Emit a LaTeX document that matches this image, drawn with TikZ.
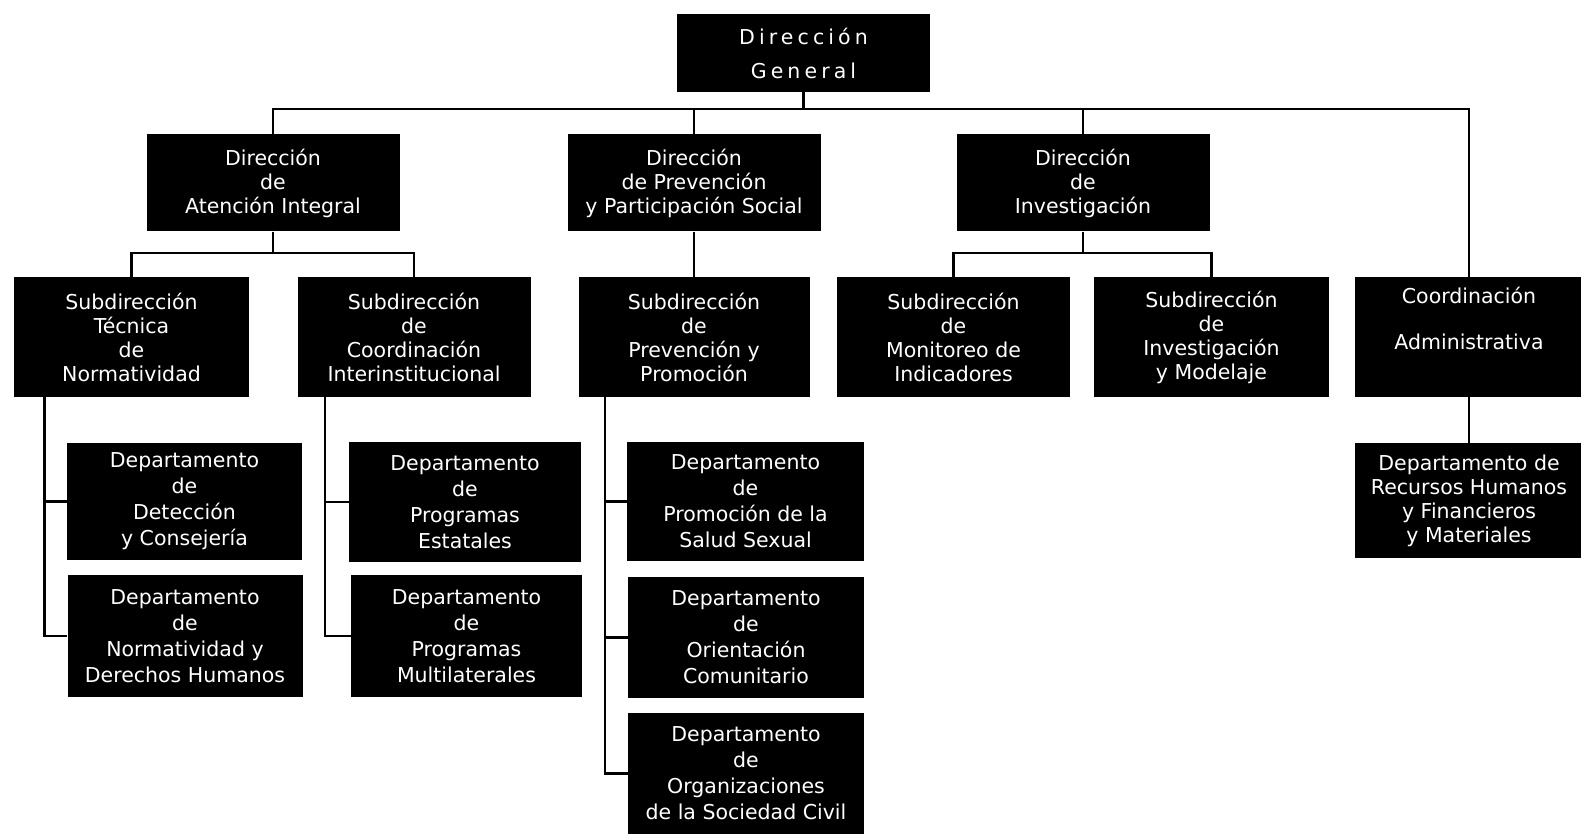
\documentclass[tikz,border=0pt]{standalone}
\usepackage{fontspec}
\setmainfont{DejaVu Sans}
\begin{document}
\begin{tikzpicture}[x=1pt,y=-1pt,
  unit/.style={fill=black,text=white,align=center,inner sep=0pt,
    font=\fontsize{20.5}{24}\selectfont},
  dir/.style={unit,minimum width=253pt,minimum height=97pt},
  sub/.style={unit,minimum width=233pt,minimum height=120pt},
  dept/.style={unit,minimum width=235pt,minimum height=120pt,
    font=\fontsize{20.5}{26}\selectfont},
  link/.style={line width=2.2pt}]
\useasboundingbox (0,0) rectangle (1581,834);

\node[unit,minimum width=253pt,minimum height=78pt] (dg) at (803.5,53)
  {\addfontfeature{LetterSpace=20}Dirección\\[10pt]\addfontfeature{LetterSpace=20}General};

\node[dir] (ai) at (273,183) {Dirección\\de\\Atención Integral};
\node[dir] (pps) at (694,183) {Dirección\\de Prevención\\y Participación Social};
\node[dir] (inv) at (1083,183) {Dirección\\de\\Investigación};

\node[sub,minimum width=235pt] (stn) at (131.5,337) {Subdirección\\Técnica\\de\\Normatividad};
\node[sub] (sci) at (414,337) {Subdirección\\de\\Coordinación\\Interinstitucional};
\node[sub,minimum width=231pt] (spp) at (694,337) {Subdirección\\de\\Prevención y\\Promoción};
\node[sub] (smi) at (953.5,337) {Subdirección\\de\\Monitoreo de\\Indicadores};
\node[sub,minimum width=235pt] (sim) at (1211.5,337) {Subdirección\\de\\Investigación\\y Modelaje};
\node[sub,minimum width=228pt] (ca) at (1469,337) {Coordinación\\[22pt]Administrativa\\[14pt]\mbox{}};

\node[dept,minimum height=117pt] (ddc) at (184.5,501.5) {Departamento\\de\\Detección\\y Consejería};
\node[dept,minimum height=122pt] (dnd) at (185,636) {Departamento\\de\\Normatividad y\\Derechos Humanos};
\node[dept,minimum width=232pt] (dpe) at (465,502) {Departamento\\de\\Programas\\Estatales};
\node[dept,minimum width=231pt,minimum height=122pt] (dpm) at (466.5,636) {Departamento\\de\\Programas\\Multilaterales};
\node[dept,minimum width=237pt,minimum height=119pt] (dps) at (745.5,501.5) {Departamento\\de\\Promoción de la\\Salud Sexual};
\node[dept,minimum width=236pt,minimum height=121pt] (doc) at (746,637.5) {Departamento\\de\\Orientación\\Comunitario};
\node[dept,minimum width=236pt,minimum height=121pt] (dos) at (746,773.5) {Departamento\\de\\Organizaciones\\de la Sociedad Civil};
\node[dept,minimum width=228pt,minimum height=115pt,font=\fontsize{20.5}{24}\selectfont] (drh) at (1469,500.5)
  {Departamento de\\Recursos Humanos\\y Financieros\\y Materiales};

\foreach \n in {ai,pps,inv,ca}
  \draw[link] (dg.south) -- ++(0,17) -| (\n.north);
\foreach \n in {stn,sci}
  \draw[link] (ai.south) -- ++(0,21) -| (\n.north);
\foreach \n in {smi,sim}
  \draw[link] (inv.south) -- ++(0,21) -| (\n.north);
\draw[link] (pps.south) -- (spp.north);
\draw[link] (ca.south) -- (drh.north);

\foreach \n in {ddc,dnd}
  \draw[link] ([xshift=-87pt]stn.south) |- (\n.west);
\foreach \n in {dpe,dpm}
  \draw[link] ([xshift=-89pt]sci.south) |- (\n.west);
\foreach \n in {dps,doc,dos}
  \draw[link] ([xshift=-89pt]spp.south) |- (\n.west);
\end{tikzpicture}
\end{document}
